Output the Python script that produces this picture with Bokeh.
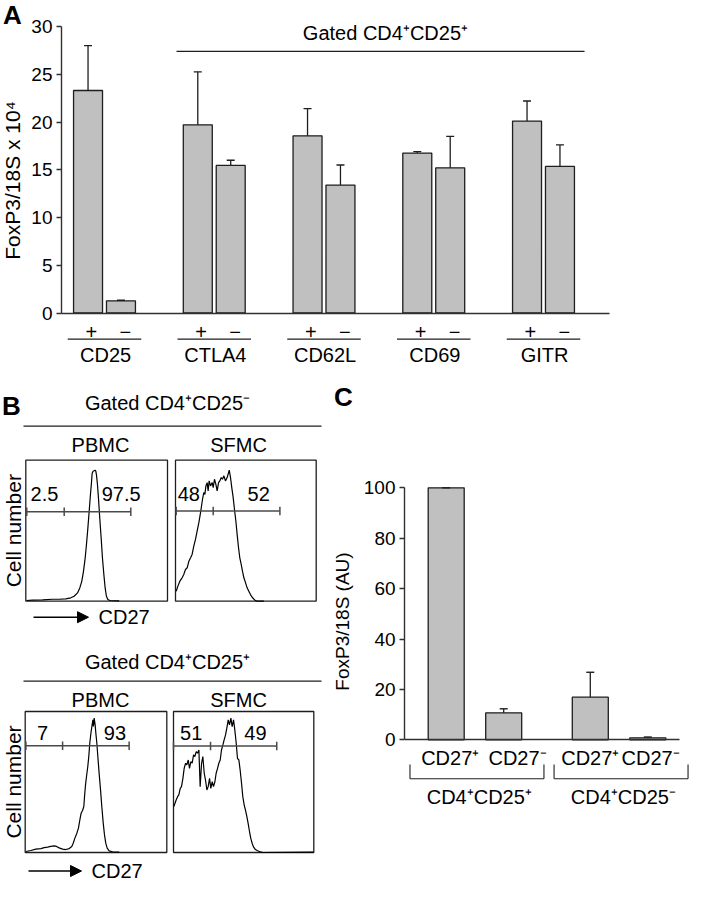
import math
from bokeh.plotting import figure
from bokeh.models import (Range1d, LinearAxis, FixedTicker, ColumnDataSource,
                          Whisker, TeeHead, Arrow, NormalHead)
from bokeh.core.properties import value
from bokeh.embed import file_html
from bokeh.resources import INLINE

# ---------------- Panel A data ----------------
a_markers = ["CD25", "CTLA4", "CD62L", "CD69", "GITR"]
a_signs = ["+", "−"]
a_pos_mean = [23.3, 19.7, 18.55, 16.75, 20.1]
a_pos_sd = [4.7, 5.55, 2.85, 0.15, 2.1]
a_neg_mean = [1.28, 15.45, 13.4, 15.2, 15.35]
a_neg_sd = [0.05, 0.55, 2.1, 3.3, 2.25]
a_yticks = [0, 5, 10, 15, 20, 25, 30]
a_ylabel = "FoxP3/18S x 10⁴"
a_gate_title = "Gated CD4⁺CD25⁺"

# ---------------- Panel C data ----------------
c_subsets = ["CD4⁺CD25⁺", "CD4⁺CD25⁻"]
c_cd27 = ["CD27⁺", "CD27⁻"]
c_mean = [100.0, 10.7, 16.9, 0.8]
c_sd = [0.0, 1.6, 9.9, 0.3]
c_yticks = [0, 20, 40, 60, 80, 100]
c_ylabel = "FoxP3/18S (AU)"

# ---------------- Panel B data ----------------
b_titles = ["Gated CD4⁺CD25⁻", "Gated CD4⁺CD25⁺"]
b_tissues = ["PBMC", "SFMC"]
b_xlabel = "CD27"
b_ylabel = "Cell number"
# histogram traces: x = % of CD27 display scale, y = % of maximum cell count
h1_x = [0.5, 4.7, 11.8, 18.8, 23.5, 28.2, 31.8, 34.1, 36.5, 38.1, 39.5, 40.7, 41.9, 42.8,
        43.8, 44.7, 45.6, 46.4, 46.8, 47.5, 48.9, 49.4, 49.9, 50.6, 51.3, 52.2, 53.2, 54.1,
        55.1, 56.0, 56.9, 57.9, 59.3, 65.9]
h1_y = [0.5, 0.7, 0.9, 1.4, 1.4, 1.6, 2.4, 3.5, 5.9, 9.4, 14.1, 21.2, 30.6, 40.0,
        51.8, 63.5, 75.3, 84.7, 90.6, 92.2, 92.9, 92.2, 89.4, 82.4, 72.9, 58.8, 44.7, 30.6,
        18.8, 9.4, 3.5, 1.2, 0.5, 0.2]
h2_x = [0.5, 1.7, 3.1, 4.7, 5.9, 7.1, 8.3, 9.5, 10.7, 11.8, 13.0, 14.2, 15.4, 16.6, 17.8,
        18.5, 19.2, 20.1, 20.9, 21.6, 22.5, 23.2, 23.9, 24.9, 26.1, 26.8, 27.7, 28.7, 29.6,
        30.6, 31.5, 32.5, 33.4, 34.4, 35.5, 36.7, 38.2, 39.1, 40.0, 41.0, 41.9, 42.9, 43.8,
        44.8, 45.7, 46.7, 47.6, 48.6, 49.8, 50.9, 52.1, 53.3, 54.5, 56.2, 58.1, 62.8]
h2_y = [7.1, 10.7, 14.2, 16.6, 19.0, 22.5, 23.7, 28.4, 30.8, 33.2, 39.1, 43.8, 49.8, 55.7, 62.8,
        67.5, 72.3, 77.0, 75.8, 81.8, 84.1, 78.2, 85.3, 81.8, 84.1, 80.6, 86.5, 82.9, 78.2,
        84.1, 85.3, 87.7, 86.5, 88.9, 85.3, 87.7, 92.9, 87.7, 80.6, 73.5, 65.2, 56.9, 47.4,
        37.9, 30.8, 26.1, 21.3, 16.6, 13.0, 9.5, 7.1, 4.7, 2.8, 0.9, 0.0, 0.0]
h3_x = [0.5, 4.0, 7.5, 11.1, 13.4, 15.8, 18.1, 20.5, 22.1, 24.0, 26.4, 28.7, 31.1, 32.9,
        33.9, 35.1, 36.5, 37.6, 38.6, 39.5, 40.5, 41.4, 41.9, 42.6, 43.3, 44.2, 44.9, 45.6,
        46.4, 47.1, 47.8, 48.2, 48.7, 49.4, 49.9, 50.6, 51.3, 52.2, 53.2, 54.1, 55.1, 56.0,
        56.9, 57.9, 59.3, 61.6, 66.4]
h3_y = [0.7, 1.4, 2.4, 2.8, 3.5, 3.8, 4.3, 4.7, 4.3, 3.3, 2.4, 2.1, 2.8, 4.3,
        6.6, 10.2, 13.7, 17.3, 23.2, 27.9, 29.8, 32.6, 39.7, 48.0, 53.9, 61.0, 68.1, 77.5,
        84.6, 89.4, 94.1, 89.4, 95.3, 90.5, 84.6, 77.5, 68.1, 56.3, 44.4, 32.6, 20.8, 12.5,
        6.6, 3.1, 1.2, 0.5, 0.2]
h4_x = [0.2, 1.0, 1.9, 2.9, 3.8, 4.8, 5.7, 6.7, 7.6, 8.6, 9.5, 10.5, 11.4, 12.4, 13.3,
        14.3, 15.2, 16.2, 17.1, 18.1, 19.0, 20.0, 20.9, 21.9, 22.8, 23.8, 24.7, 25.7, 26.6,
        27.6, 28.5, 29.5, 30.4, 31.4, 32.3, 33.3, 34.2, 35.2, 36.1, 37.1, 38.0, 39.0, 39.9,
        40.9, 41.8, 42.8, 43.7, 44.7, 45.6, 46.6, 47.5, 48.5, 49.4, 50.4, 51.3, 52.3, 53.2,
        54.2, 55.1, 56.1, 57.0, 58.4, 59.9, 61.8, 63.7, 99.8]
h4_y = [32.5, 34.8, 37.2, 39.6, 40.8, 45.5, 46.7, 52.6, 59.7, 63.3, 62.1, 65.6, 59.7, 64.5, 63.3,
        69.2, 68.0, 71.6, 70.4, 72.7, 46.7, 63.3, 68.0, 56.2, 51.4, 44.3, 46.7, 52.6, 45.5,
        50.2, 46.7, 50.2, 56.2, 59.7, 63.3, 65.6, 72.7, 76.3, 79.9, 83.4, 88.2, 94.1, 90.5,
        95.3, 89.3, 94.1, 87.0, 77.5, 66.8, 65.6, 58.5, 49.1, 39.6, 33.6, 30.1, 25.4, 20.6,
        14.7, 10.0, 6.4, 4.0, 2.1, 1.2, 0.5, 0.0, 0.2]
b_gate_bounds = [[0.7, 27.1, 74.1], [0.5, 26.8, 74.2], [0.5, 26.4, 73.4], [0.0, 26.4, 73.6]]
b_gate_pct = [["2.5", "97.5"], ["48", "52"], ["7", "93"], ["51", "49"]]

# ---------------- layout / style ----------------
W, H = 689, 883
FONT_NAME = "Liberation Sans"
FONT = value(FONT_NAME)
BAR_FILL = "#c0c0c0"
INK = "#1e1e1e"
AXIS = "#303030"
GATE = "#4a4a4a"


def rng(p0, p1, v0, v1, total, from_top=False):
    """Range whose value v0 sits at pixel p0 and v1 at pixel p1."""
    if from_top:
        p0, p1 = total - p0, total - p1
    s = (v1 - v0) / (p1 - p0)
    start = v0 - p0 * s
    return Range1d(start=start, end=start + total * s)


p = figure(width=W, height=H, output_backend="svg", toolbar_location=None,
           x_axis_location=None, y_axis_location=None,
           x_range=rng(104, 543, 0, 4, W), y_range=rng(312.5, 26, 0, 30, H, True),
           min_border_left=0, min_border_right=0, min_border_top=0, min_border_bottom=0,
           outline_line_color=None)
p.grid.visible = False
p.extra_x_ranges = {"xP": Range1d(0, W), "xC": rng(445.7, 503.2, 0, 1, W)}
p.extra_y_ranges = {"yP": Range1d(H, 0), "yC": rng(739.3, 487.3, 0, 100, H, True)}

hist_boxes = [(25.3, 167.0, 459.7, 600.7), (175.0, 315.7, 459.7, 600.7),
              (24.7, 166.3, 711.0, 852.0), (173.0, 313.3, 711.0, 852.0)]
for k, (l, r, t, b) in enumerate(hist_boxes):
    p.extra_x_ranges[f"xh{k}"] = rng(l, r, 0, 100, W)
    p.extra_y_ranges[f"yh{k}"] = rng(b, t, 0, 100, H, True)


def txt(x, y, s, size, rx="default", ry="default", align="center", baseline="middle",
        angle=0.0, bold=False, color="black"):
    p.text(x=x, y=y, text=s, x_range_name=rx, y_range_name=ry, angle=angle,
           text_font=FONT, text_font_size=size, text_align=align, text_baseline=baseline,
           text_font_style="bold" if bold else "normal", text_color=color)


def y_axis(loc, bounds, ticks, size, rx="default", ry="default"):
    return LinearAxis(x_range_name=rx, y_range_name=ry, fixed_location=loc, bounds=bounds,
                      ticker=FixedTicker(ticks=ticks), axis_line_color=AXIS, axis_line_width=1.4,
                      major_tick_line_color=AXIS, major_tick_line_width=1.4, major_tick_out=5,
                      major_tick_in=0, minor_tick_line_color=None, major_label_standoff=4,
                      major_label_text_font=FONT_NAME, major_label_text_font_size=size,
                      major_label_text_color="black")


def x_axis(bounds, rx="default", ry="default"):
    return LinearAxis(x_range_name=rx, y_range_name=ry, fixed_location=0, bounds=bounds,
                      ticker=FixedTicker(ticks=[]), axis_line_color=AXIS, axis_line_width=1.4,
                      major_tick_line_color=None, minor_tick_line_color=None,
                      major_label_text_font_size="0px")


# ======================= Panel A =======================
A_PAIR, A_BAR_W, A_AX_X, A_AX_END = 0.15, 0.264, -0.392, 4.60
p.add_layout(y_axis(A_AX_X, (0, 30), a_yticks, "19px"), "left")
p.add_layout(x_axis((A_AX_X, A_AX_END)), "below")

a_x = [i - A_PAIR for i in range(5)] + [i + A_PAIR for i in range(5)]
a_top = a_pos_mean + a_neg_mean
a_up = [m + s for m, s in zip(a_pos_mean + a_neg_mean, a_pos_sd + a_neg_sd)]
src_a = ColumnDataSource(dict(x=a_x, top=a_top, upper=a_up))
p.vbar(x="x", top="top", bottom=0, width=A_BAR_W, source=src_a, fill_color=BAR_FILL,
       line_color=INK, line_width=1.3)
p.add_layout(Whisker(source=src_a, base="x", lower="top", upper="upper", dimension="height",
                     lower_head=None, upper_head=TeeHead(size=8, line_color=INK, line_width=1.4),
                     line_color=INK, line_width=1.3, level="annotation"))

# +/- labels, underlines and marker names
txt([i - A_PAIR + 0.03 for i in range(5)], [-1.94] * 5, [a_signs[0]] * 5, "20px")
txt([i + A_PAIR + 0.04 for i in range(5)], [-1.94] * 5, [a_signs[1]] * 5, "20px")
p.segment(x0=[i - 0.335 for i in range(5)], x1=[i + 0.335 for i in range(5)],
          y0=[-2.74] * 5, y1=[-2.74] * 5, line_color=INK, line_width=1.3)
txt([i + 0.01 for i in range(5)], [-4.35] * 5, a_markers, "20px")
# gated bracket
p.segment(x0=[0.656], x1=[4.374], y0=[27.4], y1=[27.4], line_color=INK, line_width=1.3)
txt([2.56], [29.37], [a_gate_title], "20px")
# panel letter & y label (page pixels)
txt([12], [14], ["A"], "26px", "xP", "yP", bold=True)
txt([12], [180], [a_ylabel], "21px", "xP", "yP", angle=math.pi / 2)

# ======================= Panel C =======================
C_GROUP, C_BAR_W, C_AX_X, C_AX_END = 2.506, 0.626, -0.725, 4.057
p.add_layout(y_axis(C_AX_X, (0, 100), c_yticks, "19px", "xC", "yC"), "left")
p.add_layout(x_axis((C_AX_X, C_AX_END), "xC", "yC"), "below")

c_x = [g * C_GROUP + k for g in range(2) for k in range(2)]
src_c = ColumnDataSource(dict(x=c_x, top=c_mean, upper=[m + s for m, s in zip(c_mean, c_sd)]))
p.vbar(x="x", top="top", bottom=0, width=C_BAR_W, source=src_c, fill_color=BAR_FILL,
       line_color=INK, line_width=1.3, x_range_name="xC", y_range_name="yC")
p.add_layout(Whisker(source=src_c, base="x", lower="top", upper="upper", dimension="height",
                     lower_head=None, upper_head=TeeHead(size=8, line_color=INK, line_width=1.4),
                     line_color=INK, line_width=1.3, level="annotation",
                     x_range_name="xC", y_range_name="yC"))
c_lab_shift = [0.07, 0.24, 0.0, 0.05]
txt([x + d for x, d in zip(c_x, c_lab_shift)], [-7.42] * 4, c_cd27 * 2, "20px", "xC", "yC")
br_l = [g * C_GROUP - 0.63 for g in range(2)]
br_r = [g * C_GROUP + 1.70 for g in range(2)]
p.segment(x0=br_l + br_r + br_l, x1=br_l + br_r + br_r,
          y0=[-9.8] * 4 + [-15.48] * 2, y1=[-15.48] * 6,
          line_color=INK, line_width=1.1, x_range_name="xC", y_range_name="yC")
txt([(a + b) / 2 + 0.04 for a, b in zip(br_l, br_r)], [-22.5] * 2, c_subsets, "20px", "xC", "yC")
txt([343], [396], ["C"], "26px", "xP", "yP", bold=True)
txt([342], [621], [c_ylabel], "19px", "xP", "yP", angle=math.pi / 2)

# ======================= Panel B =======================
txt([11], [405], ["B"], "26px", "xP", "yP", bold=True)
rows = [dict(title_y=402, line_y=425.7, tissue_y=444, arrow_y=616.7, arrow_x=(33, 88)),
        dict(title_y=661, line_y=680.7, tissue_y=699, arrow_y=870.5, arrow_x=(28, 81))]
for r, row in enumerate(rows):
    txt([167], [row["title_y"]], [b_titles[r]], "20px", "xP", "yP")
    p.segment(x0=[23], x1=[321], y0=[row["line_y"]], y1=[row["line_y"]], line_color=INK,
              line_width=1.3, x_range_name="xP", y_range_name="yP")
    txt([100, 238], [row["tissue_y"]] * 2, b_tissues, "20px", "xP", "yP")
    l, rr, t, b = hist_boxes[2 * r]
    txt([13], [(t + b) / 2], [b_ylabel], "21px", "xP", "yP", angle=math.pi / 2)
    ax0, ax1 = row["arrow_x"]
    p.add_layout(Arrow(x_start=ax0, y_start=row["arrow_y"], x_end=ax1, y_end=row["arrow_y"],
                       x_range_name="xP", y_range_name="yP", line_color="black", line_width=1.5,
                       end=NormalHead(size=11, fill_color="black", line_color="black")))
    txt([ax1 + 10], [row["arrow_y"]], [b_xlabel], "20px", "xP", "yP", align="left")

hists = [(h1_x, h1_y), (h2_x, h2_y), (h3_x, h3_y), (h4_x, h4_y)]
gate_level = [63.5, 64.0, 75.7, 75.6]
gate_lab_x = [[13.2, 67.3], [9.5, 59.1], [12.2, 63.4], [12.6, 58.4]]
gate_lab_y = [75.8, 75.8, 84.6, 84.6]
for k, (hx, hy) in enumerate(hists):
    rx, ry = f"xh{k}", f"yh{k}"
    p.quad(left=[0], right=[100], bottom=[0], top=[100], fill_color=None, line_color=INK,
           line_width=1.3, x_range_name=rx, y_range_name=ry)
    p.line(x=hx, y=hy, line_color="black", line_width=1.2, x_range_name=rx, y_range_name=ry)
    g = b_gate_bounds[k]
    lv = gate_level[k]
    p.segment(x0=[g[0]] + g, x1=[g[2]] + g, y0=[lv] + [lv - 3] * 3, y1=[lv] + [lv + 3] * 3,
              line_color=GATE, line_width=1.5, x_range_name=rx, y_range_name=ry)
    txt(gate_lab_x[k], [gate_lab_y[k]] * 2, b_gate_pct[k], "20px", rx, ry)

open("out.html", "w").write(file_html(p, INLINE))
